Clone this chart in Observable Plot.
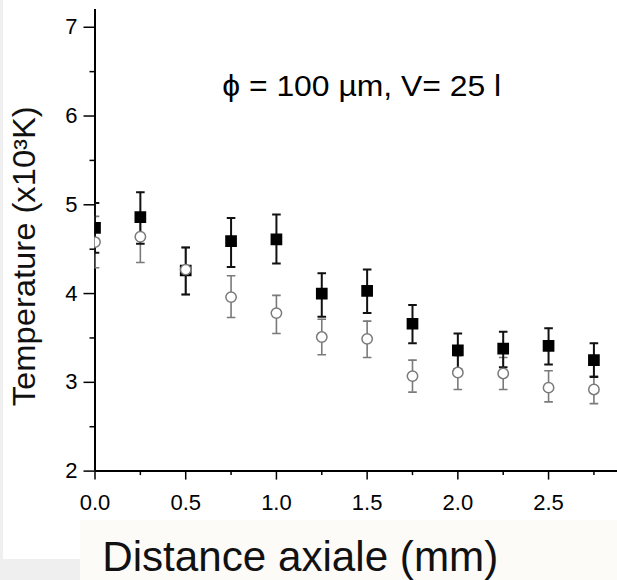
<!DOCTYPE html>
<html><head><meta charset="utf-8">
<script src="https://cdn.jsdelivr.net/npm/d3@7"></script>
<script src="https://cdn.jsdelivr.net/npm/@observablehq/plot@0.6"></script>
<style>
html,body{margin:0;padding:0;background:#efefef;}
#wrap{position:relative;width:617px;height:580px;overflow:hidden;}
#white{position:absolute;left:3px;top:0;width:614px;height:559px;background:#ffffff;}
#band{position:absolute;left:80px;top:520px;width:537px;height:60px;background:#fdfbf8;}
#chart{position:absolute;left:0;top:0;}
</style></head><body>
<div id="wrap"><div id="white"></div><div id="band"></div><div id="chart"></div></div>
<script>
// Axial distance (mm)
const distance = [0, 0.25, 0.5, 0.75, 1.0, 1.25, 1.5, 1.75, 2.0, 2.25, 2.5, 2.75];
// Series A (filled squares), temperature x10^3 K
const tempA     = [4.74, 4.86, 4.26, 4.59, 4.61, 4.00, 4.03, 3.66, 3.36, 3.38, 3.41, 3.25];
const tempAHigh = [5.02, 5.14, 4.52, 4.85, 4.89, 4.23, 4.27, 3.87, 3.55, 3.57, 3.61, 3.44];
const tempALow  = [4.46, 4.56, 3.99, 4.30, 4.34, 3.74, 3.78, 3.44, 3.15, 3.17, 3.20, 3.06];
// Series B (open circles)
const tempB     = [4.58, 4.64, 4.27, 3.96, 3.78, 3.51, 3.49, 3.07, 3.11, 3.10, 2.94, 2.92];
const tempBHigh = [4.87, 4.91, 4.52, 4.20, 3.98, 3.71, 3.69, 3.25, 3.30, 3.28, 3.13, 3.07];
const tempBLow  = [4.29, 4.35, 3.99, 3.73, 3.55, 3.31, 3.28, 2.89, 2.92, 2.92, 2.78, 2.76];
// Ticks
const xMajorTicks = [0, 0.5, 1.0, 1.5, 2.0, 2.5];
const xMinorTicks = [0.25, 0.75, 1.25, 1.75, 2.25, 2.75];
const yMajorTicks = [2, 3, 4, 5, 6, 7];
const yMinorTicks = [2.5, 3.5, 4.5, 5.5, 6.5];
// Texts
const xLabel = "Distance axiale (mm)";
const yLabel = "Temperature (x10³K)";
const annotation = "ϕ = 100 µm, V= 25 l";

const seriesA = distance.map((x, i) => ({x, y: tempA[i], lo: tempALow[i], hi: tempAHigh[i]}));
const seriesB = distance.map((x, i) => ({x, y: tempB[i], lo: tempBLow[i], hi: tempBHigh[i]}));

const cap = {draw(ctx) { ctx.moveTo(-4.3, 0); ctx.lineTo(4.3, 0); }};
const font = "'Liberation Sans', Arial, Helvetica, sans-serif";
const grayC = "#7a7a7a";
const blackC = "#111111";

const chart = Plot.plot({
  width: 617, height: 580,
  marginLeft: 94.5, marginRight: 0, marginTop: 9, marginBottom: 109.4,
  x: {domain: [0, 2.88]},
  y: {domain: [2, 7.2]},
  style: {background: "transparent", fontFamily: font, color: "#000", overflow: "visible"},
  marks: [
    Plot.axisY({ticks: yMajorTicks, tickSize: 11, tickPadding: 6.5, fontSize: 22, label: null, tickFormat: d => String(d), strokeWidth: 1.5}),
    Plot.axisY({ticks: yMinorTicks, tickSize: 5, label: null, tickFormat: () => "", strokeWidth: 1.5}),
    Plot.axisX({ticks: xMajorTicks, tickSize: 9, tickPadding: 14.5, fontSize: 22, label: null, tickFormat: d3.format(".1f"), strokeWidth: 1.5}),
    Plot.axisX({ticks: xMinorTicks, tickSize: 4.5, label: null, tickFormat: () => "", strokeWidth: 1.5}),
    Plot.ruleX([0], {stroke: "#000", strokeWidth: 2}),
    Plot.ruleY([2], {stroke: "#000", strokeWidth: 2}),
    // series B error bars
    Plot.ruleX(seriesB, {x: "x", y1: "lo", y2: "hi", stroke: grayC, strokeWidth: 1.6, clip: true}),
    Plot.dot(seriesB, {x: "x", y: "hi", symbol: cap, fill: "none", stroke: grayC, strokeWidth: 1.6, clip: true}),
    Plot.dot(seriesB, {x: "x", y: "lo", symbol: cap, fill: "none", stroke: grayC, strokeWidth: 1.6, clip: true}),
    // series A error bars
    Plot.ruleX(seriesA, {x: "x", y1: "lo", y2: "hi", stroke: blackC, strokeWidth: 2, clip: true}),
    Plot.dot(seriesA, {x: "x", y: "hi", symbol: cap, fill: "none", stroke: blackC, strokeWidth: 2, clip: true}),
    Plot.dot(seriesA, {x: "x", y: "lo", symbol: cap, fill: "none", stroke: blackC, strokeWidth: 2, clip: true}),
    // markers
    Plot.dot(seriesA, {x: "x", y: "y", symbol: "square", r: 6.6, fill: "#000", stroke: "none", clip: true}),
    Plot.dot(seriesB, {x: "x", y: "y", symbol: "circle", r: 5.2, fill: "#fff", stroke: grayC, strokeWidth: 1.5, clip: true}),
    // texts
    Plot.text([annotation], {frameAnchor: "top-left", dx: 127.2, dy: 77.7, textAnchor: "start", lineAnchor: "middle", fontSize: 29, fill: "#000"}),
    Plot.text([yLabel], {frameAnchor: "left", rotate: -90, dx: -69.5, dy: 16, textAnchor: "middle", lineAnchor: "middle", fontSize: 31, fill: "#111"}),
    Plot.text([xLabel], {frameAnchor: "bottom-left", dx: 7.2, dy: 86.5, textAnchor: "start", lineAnchor: "middle", fontSize: 42, fill: "#111"})
  ]
});
// stretch texts horizontally to match the reference's wider lettering
const widths = new Map([[annotation, 279], [yLabel, 300], [xLabel, 396]]);
d3.select(chart).selectAll("text").each(function() {
  const w = widths.get(this.textContent);
  if (w) d3.select(this).attr("textLength", w).attr("lengthAdjust", "spacingAndGlyphs");
});
document.getElementById("chart").appendChild(chart);
</script>
</body></html>
